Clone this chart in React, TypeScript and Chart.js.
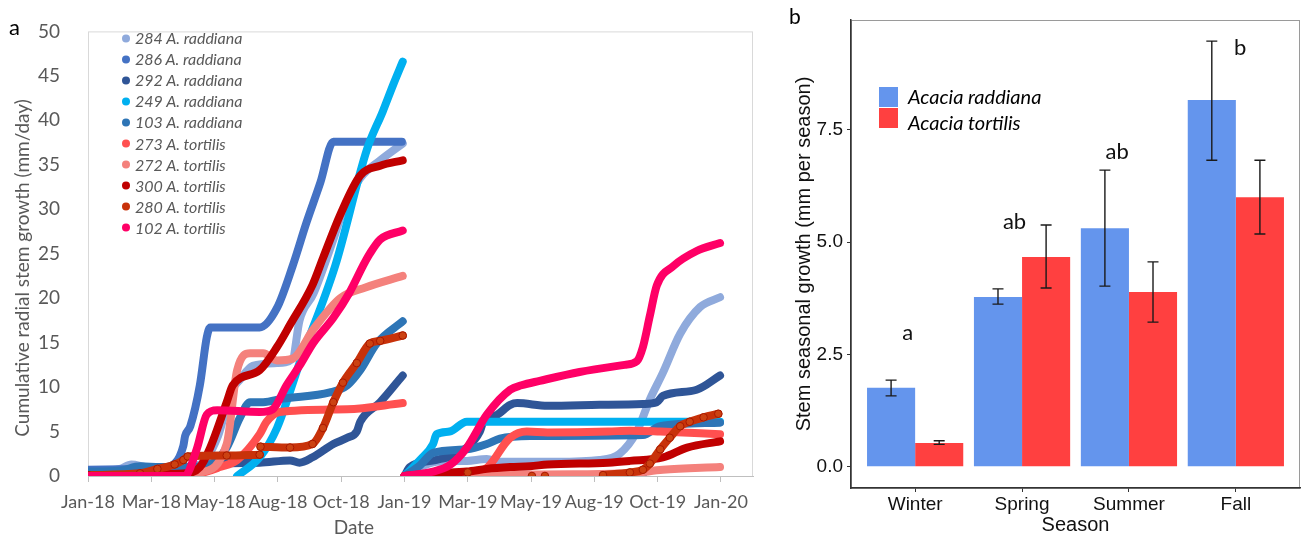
import React, { useEffect, useRef } from 'react';
import { Chart, registerables } from 'chart.js';

Chart.register(...registerables);

// ---------------- Panel a data ----------------
const dateTickDays = [0, 73, 146, 219, 292, 365, 438, 511, 584, 657, 730];
const dateTickLabels = ['Jan-18', 'Mar-18', 'May-18', 'Aug-18', 'Oct-18', 'Jan-19', 'Mar-19', 'May-19', 'Aug-19', 'Oct-19', 'Jan-20'];
const growthTicks = [0, 5, 10, 15, 20, 25, 30, 35, 40, 45, 50];

const seriesNames = ['284 A. raddiana', '286 A. raddiana', '292 A. raddiana', '249 A. raddiana', '103 A. raddiana', '273 A. tortilis', '272 A. tortilis', '300 A. tortilis', '280 A. tortilis', '102 A. tortilis'];
const seriesColors = ['#8FAADC', '#4472C4', '#2F5597', '#00B0F0', '#2E75B6', '#FF5050', '#F4817C', '#C00000', '#C8320A', '#FF0066'];

// [day since Jan-18, cumulative growth]
const s284a: [number, number][] = [[0, 0.5], [37, 0.8], [50, 1.3], [70, 1.0], [100, 1.0], [129, 1.3], [150, 4.5], [165, 9.5], [175, 10.8], [190, 12.4], [218, 12.7], [236, 13.2], [244, 17.5], [260, 20.5], [283, 26.6], [294, 29.8], [314, 33.5], [337, 35.5], [363, 37.4]];
const s284b: [number, number][] = [[365, 0], [383, 1.0], [402, 1.6], [437, 1.7], [460, 1.9], [475, 1.6], [540, 1.6], [590, 1.8], [613, 2.5], [633, 5.0], [648, 8.6], [663, 11.6], [683, 16], [706, 19], [729, 20.1]];
const s286a: [number, number][] = [[0, 0.7], [60, 0.8], [83, 0.9], [100, 1.4], [110, 3.4], [112, 4.5], [118, 5.6], [129, 10.2], [137, 15.6], [141, 16.7], [198, 16.7], [218, 18.9], [236, 23.6], [252, 28.5], [268, 33], [283, 37.6], [362, 37.6]];
const s286b: [number, number][] = [[367, 0.1], [500, 0], [640, 0]];
const s292a: [number, number][] = [[0, 0.3], [83, 0.3], [112, 0.7], [152, 1.4], [198, 1.5], [233, 1.75], [244, 1.5], [259, 2.1], [283, 3.6], [299, 4.3], [310, 5.0], [314, 6.1], [337, 8.3], [363, 11.3]];
const s292b: [number, number][] = [[365, 0], [371, 1.0], [402, 1.8], [437, 3.2], [452, 5.0], [456, 6.1], [472, 6.9], [487, 8.0], [495, 8.2], [530, 7.9], [590, 8.0], [640, 8.1], [656, 8.3], [663, 9.0], [702, 9.7], [729, 11.3]];
const s249a: [number, number][] = [[172, 0], [198, 2.1], [218, 5.4], [244, 12.7], [285, 23.6], [322, 36.8], [340, 41], [352, 44], [363, 46.6]];
const s249b: [number, number][] = [[365, 0], [383, 1.8], [398, 3.6], [402, 4.7], [417, 5.0], [437, 6.1], [510, 6.1], [600, 6.1], [729, 6.1]];
const s103a: [number, number][] = [[0, 0.5], [37, 0.6], [60, 1.1], [83, 1.0], [112, 1.0], [140, 1.3], [160, 3.2], [175, 6.5], [187, 8.3], [202, 8.3], [225, 8.7], [279, 9.4], [299, 10.2], [314, 11.9], [333, 14.9], [363, 17.4]];
const s103b: [number, number][] = [[365, 0], [383, 1.2], [398, 2.6], [437, 3.0], [460, 3.6], [475, 4.2], [510, 4.5], [640, 4.6], [660, 5.6], [729, 6.0]];
const s273a: [number, number][] = [[0, 0], [100, 0.1], [129, 0.3], [152, 1.0], [172, 1.8], [198, 4.7], [206, 6.1], [221, 7.2], [299, 7.5], [363, 8.2]];
const s273b: [number, number][] = [[365, 0], [400, 0.2], [456, 0.7], [487, 4.3], [506, 5.0], [530, 4.9], [600, 5.0], [625, 5.1], [660, 5.0], [729, 4.7]];
const s272a: [number, number][] = [[0, 0], [100, 0.1], [129, 0.4], [160, 3.6], [172, 11.9], [187, 13.8], [202, 13.8], [218, 13.0], [236, 13.2], [260, 16.5], [291, 20], [320, 21.2], [363, 22.5]];
const s272b: [number, number][] = [[365, 0], [450, 0.1], [560, 0.2], [625, 0.3], [663, 0.7], [729, 1.0]];
const s300a: [number, number][] = [[0, 0], [83, 0.2], [114, 0.3], [129, 1.0], [141, 3.2], [160, 8.3], [167, 10.2], [198, 11.9], [218, 14.5], [233, 17], [259, 21.5], [271, 24.5], [291, 29.4], [314, 33.8], [337, 34.9], [363, 35.5]];
const s300b: [number, number][] = [[365, 0], [400, 0.3], [437, 0.5], [460, 0.8], [487, 1.0], [510, 1.1], [530, 1.3], [600, 1.5], [625, 1.7], [663, 2.1], [691, 3.2], [729, 3.9]];
const s280a: [number, number][] = [[0, 0.1], [60, 0.3], [80, 0.8], [100, 1.3], [110, 1.8], [115, 2.2], [160, 2.3], [198, 2.4]];
const s280b: [number, number][] = [[199, 3.3], [233, 3.2], [259, 3.6], [271, 5.4], [283, 8.3], [294, 10.5], [310, 12.7], [325, 14.9], [337, 15.2], [363, 15.8]];
const s280c: [number, number][] = [[438, 0.4]];
const s280d: [number, number][] = [[512, 0.0]];
const s280e: [number, number][] = [[527, 0.0]];
const s280f: [number, number][] = [[594, 0.1], [625, 0.4], [640, 0.7], [648, 1.4], [660, 3], [671, 4.3], [683, 5.6], [694, 6.1], [710, 6.6], [727, 7.0]];
const s102a: [number, number][] = [[0, 0], [112, 0], [114, 0.1], [126, 3.2], [137, 6.9], [149, 7.4], [198, 7.2], [213, 7.5], [229, 10.2], [244, 12.4], [260, 15], [283, 17.8], [302, 20.7], [317, 23.6], [325, 25], [337, 26.6], [363, 27.6]];
const s102b: [number, number][] = [[365, 0], [398, 0.5], [417, 1.2], [437, 3.2], [460, 6.9], [487, 9.7], [500, 10.2], [521, 10.7], [567, 11.7], [619, 12.5], [633, 12.9], [640, 14.5], [648, 18], [656, 21.4], [675, 23.6], [702, 25.3], [729, 26.2]];

const seriesSegments: [number, number][][][] = [
  [s284a, s284b],
  [s286a, s286b],
  [s292a, s292b],
  [s249a, s249b],
  [s103a, s103b],
  [s273a, s273b],
  [s272a, s272b],
  [s300a, s300b],
  [s280a, s280b, s280c, s280d, s280e, s280f],
  [s102a, s102b],
];

// ---------------- Panel b data ----------------
const seasons = ['Winter', 'Spring', 'Summer', 'Fall'];
const raddianaMean = [1.76, 3.78, 5.31, 8.16];
const raddianaLow = [1.58, 3.62, 4.02, 6.82];
const raddianaHigh = [1.93, 3.96, 6.6, 9.47];
const tortilisMean = [0.53, 4.67, 3.89, 6.0];
const tortilisLow = [0.5, 3.98, 3.22, 5.18];
const tortilisHigh = [0.58, 5.38, 4.56, 6.82];
const letterText = ['a', 'ab', 'ab', 'b'];
const letterX = [0.93, 1.93, 2.89, 4.04];
const letterY = [2.98, 5.44, 7.0, 9.31];
const seasonTicks = [0, 2.5, 5, 7.5];

const EXCEL_FONT = 'Lato';
const GG_FONT = '"Liberation Sans", Arial, sans-serif';

function joinSegs(segs: [number, number][][]) {
  const out: { x: number; y: number | null }[] = [];
  segs.forEach((seg, k) => {
    if (k > 0) out.push({ x: seg[0][0], y: null });
    seg.forEach(([x, y]) => out.push({ x, y }));
  });
  return out;
}

const borderA = {
  id: 'borderA',
  beforeDraw(chart: any) {
    const { ctx, chartArea } = chart;
    ctx.save();
    ctx.strokeStyle = '#D9D9D9';
    ctx.lineWidth = 1;
    ctx.strokeRect(chartArea.left + 0.5, chartArea.top + 0.5, chartArea.right - chartArea.left - 1, chartArea.bottom - chartArea.top);
    ctx.restore();
  },
};

const borderB = {
  id: 'borderB',
  beforeDraw(chart: any) {
    const { ctx, chartArea } = chart;
    ctx.save();
    ctx.strokeStyle = '#9A9A9A';
    ctx.lineWidth = 1;
    ctx.strokeRect(chartArea.left + 0.5, chartArea.top + 0.5, chartArea.right - chartArea.left - 1, chartArea.bottom - chartArea.top);
    ctx.restore();
  },
};

const errorBarsB = {
  id: 'errorBarsB',
  afterDatasetsDraw(chart: any) {
    const { ctx } = chart;
    const ys = chart.scales.y;
    const xs = chart.scales.x;
    const ranges = [[raddianaLow, raddianaHigh], [tortilisLow, tortilisHigh]];
    ctx.save();
    ctx.strokeStyle = '#1A1A1A';
    ctx.lineWidth = 1.4;
    ranges.forEach(([lo, hi], di) => {
      const meta = chart.getDatasetMeta(di);
      meta.data.forEach((bar: any, j: number) => {
        const x = bar.x;
        const y1 = ys.getPixelForValue(lo[j]);
        const y2 = ys.getPixelForValue(hi[j]);
        ctx.beginPath();
        ctx.moveTo(x, y1);
        ctx.lineTo(x, y2);
        ctx.moveTo(x - 5.5, y1);
        ctx.lineTo(x + 5.5, y1);
        ctx.moveTo(x - 5.5, y2);
        ctx.lineTo(x + 5.5, y2);
        ctx.stroke();
      });
    });
    ctx.fillStyle = '#111';
    ctx.font = `22px ${EXCEL_FONT}`;
    ctx.textAlign = 'center';
    ctx.textBaseline = 'middle';
    letterText.forEach((t, i) => {
      ctx.fillText(t, xs.getPixelForValue(letterX[i]), ys.getPixelForValue(letterY[i]));
    });
    ctx.restore();
  },
};

export default function App() {
  const refA = useRef<HTMLCanvasElement>(null);
  const refB = useRef<HTMLCanvasElement>(null);

  useEffect(() => {
    const chartA = new Chart(refA.current as HTMLCanvasElement, {
      type: 'line',
      data: {
        datasets: seriesNames.map((name, i) => {
          const isDotted = i === 8;
          return {
            label: name,
            data: joinSegs(seriesSegments[i]),
            borderColor: seriesColors[i],
            backgroundColor: seriesColors[i],
            borderWidth: 8,
            borderCapStyle: 'round',
            borderJoinStyle: 'round',
            pointRadius: isDotted ? 3.8 : 0,
            pointHoverRadius: 0,
            pointBackgroundColor: '#CC4212',
            pointBorderColor: '#A81800',
            pointBorderWidth: 1,
            cubicInterpolationMode: 'monotone',
            spanGaps: false,
            fill: false,
            order: 20 - i,
          } as any;
        }),
      },
      options: {
        responsive: false,
        animation: false,
        devicePixelRatio: 1,
        layout: { padding: { top: 19, right: 22, left: 0, bottom: 0 } },
        plugins: { legend: { display: false }, tooltip: { enabled: false } },
        scales: {
          x: {
            type: 'linear',
            min: 0,
            max: 767,
            afterBuildTicks: (s: any) => {
              s.ticks = dateTickDays.map((v) => ({ value: v }));
            },
            afterFit: (s: any) => {
              s.height = 62;
            },
            ticks: {
              callback: (v: any) => dateTickLabels[dateTickDays.indexOf(Number(v))],
              font: { family: EXCEL_FONT, size: 18 },
              color: '#595959',
              padding: 9,
              maxRotation: 0,
              autoSkip: false,
            },
            grid: { display: true, drawOnChartArea: false, drawTicks: true, tickLength: 6, color: '#BFBFBF' },
            border: { display: true, color: '#BFBFBF', width: 1 },
          },
          y: {
            type: 'linear',
            min: 0,
            max: 50,
            afterBuildTicks: (s: any) => {
              s.ticks = growthTicks.map((v) => ({ value: v }));
            },
            afterFit: (s: any) => {
              s.width = 88;
            },
            ticks: { font: { family: EXCEL_FONT, size: 19 }, color: '#595959', padding: 20 },
            grid: { display: false },
            border: { display: false },
          },
        },
      } as any,
      plugins: [borderA],
    });

    const chartB = new Chart(refB.current as HTMLCanvasElement, {
      type: 'bar',
      data: {
        datasets: [
          {
            label: 'Acacia raddiana',
            data: seasons.map((_, i) => ({ x: i + 1, y: raddianaMean[i] })),
            backgroundColor: '#6495ED',
            borderWidth: 0,
            categoryPercentage: 0.9,
            barPercentage: 1,
          },
          {
            label: 'Acacia tortilis',
            data: seasons.map((_, i) => ({ x: i + 1, y: tortilisMean[i] })),
            backgroundColor: '#FF4040',
            borderWidth: 0,
            categoryPercentage: 0.9,
            barPercentage: 1,
          },
        ] as any,
      },
      options: {
        responsive: false,
        animation: false,
        devicePixelRatio: 1,
        layout: { padding: { top: 20, right: 1, left: 0, bottom: 0 } },
        plugins: { legend: { display: false }, tooltip: { enabled: false } },
        scales: {
          x: {
            type: 'linear',
            min: 0.4,
            max: 4.6,
            offset: false,
            afterBuildTicks: (s: any) => {
              s.ticks = seasons.map((_, i) => ({ value: i + 1 }));
            },
            afterFit: (s: any) => {
              s.height = 50;
            },
            ticks: {
              callback: (v: any) => seasons[Number(v) - 1],
              font: { family: GG_FONT, size: 19 },
              color: '#111',
              padding: 1,
              maxRotation: 0,
              autoSkip: false,
            },
            grid: { display: true, offset: false, drawOnChartArea: false, drawTicks: true, tickLength: 4, color: '#333' },
            border: { display: true, color: '#333', width: 1.5 },
            title: {
              display: true,
              text: 'Season',
              font: { family: GG_FONT, size: 20 },
              color: '#111',
              padding: { top: 0, bottom: 1 },
            },
          },
          y: {
            type: 'linear',
            min: -0.47,
            max: 9.94,
            afterBuildTicks: (s: any) => {
              s.ticks = seasonTicks.map((v) => ({ value: v }));
            },
            afterFit: (s: any) => {
              s.width = 76;
            },
            ticks: {
              callback: (v: any) => Number(v).toFixed(1),
              font: { family: GG_FONT, size: 19 },
              color: '#111',
              padding: 4,
            },
            grid: { display: true, drawOnChartArea: false, drawTicks: true, tickLength: 4, color: '#333' },
            border: { display: true, color: '#333', width: 1.5 },
            title: {
              display: true,
              text: 'Stem seasonal growth (mm per season)',
              font: { family: GG_FONT, size: 20 },
              color: '#111',
              padding: { top: 17, bottom: 0 },
            },
          },
        },
      } as any,
      plugins: [borderB, errorBarsB],
    });

    return () => {
      chartA.destroy();
      chartB.destroy();
    };
  }, []);

  const centerY = (y: number): React.CSSProperties => ({
    position: 'absolute',
    top: y,
    transform: 'translateY(-50%)',
    lineHeight: 1.2,
    whiteSpace: 'nowrap',
  });

  return (
    <div style={{ position: 'fixed', left: 0, top: 0, width: 1301, height: 538, background: '#fff', overflow: 'hidden' }}>
      <canvas ref={refA} width={775} height={538} style={{ position: 'absolute', left: 0, top: 0 }} />
      <canvas ref={refB} width={526} height={538} style={{ position: 'absolute', left: 775, top: 0 }} />

      {/* panel letters */}
      <div style={{ ...centerY(27), left: 9, fontFamily: EXCEL_FONT, fontSize: 22, color: '#000' }}>a</div>
      <div style={{ ...centerY(16), left: 789, fontFamily: EXCEL_FONT, fontSize: 21, color: '#000' }}>b</div>

      {/* panel a axis titles */}
      <div
        style={{
          position: 'absolute',
          left: 22,
          top: 268,
          transform: 'translate(-50%, -50%) rotate(-90deg)',
          whiteSpace: 'nowrap',
          fontFamily: EXCEL_FONT,
          fontSize: 19,
          color: '#595959',
          lineHeight: 1.2,
        }}
      >
        Cumulative radial stem growth (mm/day)
      </div>
      <div
        style={{
          position: 'absolute',
          left: 354,
          top: 527,
          transform: 'translate(-50%, -50%)',
          whiteSpace: 'nowrap',
          fontFamily: EXCEL_FONT,
          fontSize: 19,
          color: '#595959',
          lineHeight: 1.2,
        }}
      >
        Date
      </div>

      {/* panel a legend */}
      {seriesNames.map((name, i) => (
        <div key={name} style={{ ...centerY(38 + i * 21.1), left: 122, display: 'flex', alignItems: 'center' }}>
          <span
            style={{
              display: 'inline-block',
              width: 8,
              height: 8,
              borderRadius: 4,
              background: seriesColors[i],
              marginRight: 5,
            }}
          />
          <span style={{ fontFamily: EXCEL_FONT, fontStyle: 'italic', fontSize: 16, color: '#595959' }}>{name}</span>
        </div>
      ))}

      {/* panel b legend */}
      <div style={{ position: 'absolute', left: 879, top: 87, width: 19, height: 20, background: '#6495ED' }} />
      <div style={{ position: 'absolute', left: 879, top: 108, width: 19, height: 20, background: '#FF4040' }} />
      <div style={{ ...centerY(96), left: 908, fontFamily: EXCEL_FONT, fontStyle: 'italic', fontSize: 20, color: '#000' }}>Acacia raddiana</div>
      <div style={{ ...centerY(122), left: 908, fontFamily: EXCEL_FONT, fontStyle: 'italic', fontSize: 20, color: '#000' }}>Acacia tortilis</div>
    </div>
  );
}
